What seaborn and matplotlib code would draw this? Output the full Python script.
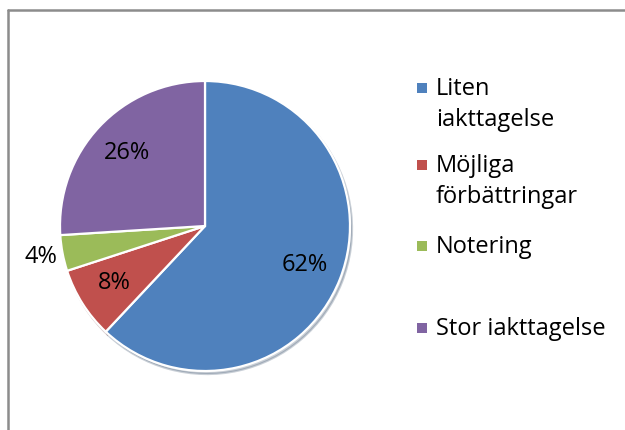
import numpy as np
import matplotlib
matplotlib.use("Agg")
import matplotlib.pyplot as plt
import seaborn as sns
from matplotlib.patches import Rectangle
from matplotlib.lines import Line2D

categories = ["Liten\niakttagelse", "Möjliga\nförbättringar", "Notering", "Stor iakttagelse"]
values = [62, 8, 4, 26]
colors = ["#4F81BD", "#C0504D", "#9BBB59", "#8064A2"]

sns.set_theme(style="white")
plt.rcParams['font.family'] = ['Open Sans', 'DejaVu Sans']

W, H = 625, 430
fig = plt.figure(figsize=(W / 100, H / 100), dpi=100)
fig.patch.set_facecolor("white")

cx, cy, r = 205, 226, 145
ax = fig.add_axes([(cx - r) / W, (H - cy - r) / H, 2 * r / W, 2 * r / H])
ax.set_aspect("equal")

wedges, _ = ax.pie(values, colors=colors, startangle=90, counterclock=False,
                   radius=1.0,
                   wedgeprops=dict(edgecolor="white", linewidth=1.6),
                   shadow=dict(ox=0.01, oy=-0.015, shade=0.5, alpha=0.25))
ax.set_xlim(-1, 1)
ax.set_ylim(-1, 1)

fs = 17
for w, v in zip(wedges, values):
    mid = np.deg2rad((w.theta1 + w.theta2) / 2)
    d = 1.15 if v < 5 else 0.74
    ax.text(d * np.cos(mid), d * np.sin(mid), f"{v}%", ha="center", va="center",
            fontsize=fs, color="black", clip_on=False)

# legend (manual, marker aligned with first line)
ys = [88, 165, 246, 328]
for lab, col, y in zip(categories, colors, ys):
    fig.patches.append(Rectangle(((417) / W, (H - y - 5) / H), 10 / W, 10 / H,
                                 transform=fig.transFigure, facecolor=col,
                                 edgecolor="none"))
    fig.text(436 / W, (H - y - 7) / H, lab.split("\n")[0], ha="left", va="baseline",
             fontsize=fs, color="black")
    if "\n" in lab:
        fig.text(436 / W, (H - y - 38) / H, lab.split("\n")[1], ha="left", va="baseline",
                 fontsize=fs, color="black")

# chart border (top and left visible)
fig.add_artist(Line2D([7.5 / W, 7.5 / W], [0, (H - 10) / H], color="#8c8c8c",
                      linewidth=1.8, transform=fig.transFigure))
fig.add_artist(Line2D([7.5 / W, 1], [(H - 10) / H, (H - 10) / H], color="#8c8c8c",
                      linewidth=1.8, transform=fig.transFigure))

fig.savefig("out.png", dpi=100, facecolor="white")
